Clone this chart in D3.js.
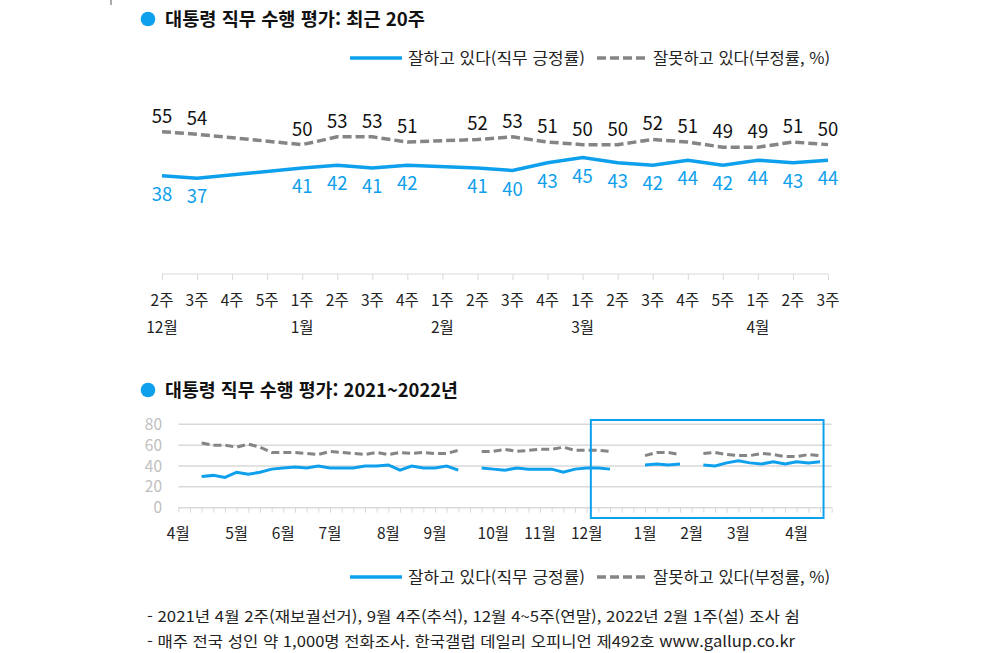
<!DOCTYPE html>
<html lang="ko">
<head>
<meta charset="UTF-8">
<title>대통령 직무 수행 평가</title>
<style>
  * { margin:0; padding:0; box-sizing:border-box }
  body { background:#fff; font-family:"Noto Sans CJK KR","Noto Sans",sans-serif; }
  svg text { font-family:"Noto Sans CJK KR","Noto Sans",sans-serif; }
</style>
</head>
<body>
<div id="chart"></div>
<script src="https://d3js.org/d3.v7.min.js"></script>
<script>
// ── 최근 20주 ──
const topWeeks  = ["2주","3주","4주","5주","1주","2주","3주","4주","1주","2주","3주","4주","1주","2주","3주","4주","5주","1주","2주","3주"];
const topMonth  = ["12월","12월","12월","12월","1월","1월","1월","1월","2월","2월","2월","2월","3월","3월","3월","3월","3월","4월","4월","4월"];
const topPos    = [38,37,null,null,41,42,41,42,null,41,40,43,45,43,42,44,42,44,43,44];
const topNeg    = [55,54,null,null,50,53,53,51,null,52,53,51,50,50,52,51,49,49,51,50];

// ── 2021~2022년 (주 단위) ──
const monthNames     = ["4월","5월","6월","7월","8월","9월","10월","11월","12월","1월","2월","3월","4월"];
const weeksPerMonth  = [5,4,4,5,4,5,4,4,5,4,4,5,3];
const allPos = [null,null,30,31,29,34,32,34,37,38,39,38,40,38,38,38,40,40,41,36,
                40,38,38,40,36,null,38,37,36,38,37,37,37,34,37,38,38,37,null,null,
                41,42,41,42,null,41,40,43,45,43,42,44,42,44,43,44];
const allNeg = [null,null,62,60,60,58,61,58,53,53,53,52,51,54,53,52,51,53,51,53,
                52,53,52,52,55,null,54,54,56,54,55,56,56,58,55,55,55,54,null,null,
                50,53,53,51,null,52,53,51,50,50,52,51,49,49,51,50];
const yTicks = [0,20,40,60,80];

const legendPos = "잘하고 있다(직무 긍정률)";
const legendNeg = "잘못하고 있다(부정률, %)";
const notes = [
  "- 2021년 4월 2주(재보궐선거), 9월 4주(추석), 12월 4~5주(연말), 2022년 2월 1주(설) 조사 쉼",
  "- 매주 전국 성인 약 1,000명 전화조사. 한국갤럽 데일리 오피니언 제492호 www.gallup.co.kr"
];

const BLUE = "#0ea0ec", GRAY = "#858585", GRID = "#d9d9d9";
const W = 983, H = 653;

const svg = d3.select("#chart").append("svg")
  .attr("width", W).attr("height", H);

// 왼쪽 위 작은 표시
svg.append("line").attr("x1",111).attr("x2",111).attr("y1",0).attr("y2",5)
  .attr("stroke","#555").attr("stroke-width",1);

function title(y, txt, len) {
  svg.append("circle").attr("cx",148).attr("cy",y).attr("r",7.3).attr("fill",BLUE);
  svg.append("text").attr("x",165).attr("y",y+7)
    .attr("font-size",18.5).attr("font-weight",700).attr("fill","#111")
    .attr("textLength",len).attr("lengthAdjust","spacingAndGlyphs").text(txt);
}

function legend(y) {
  svg.append("line").attr("x1",350).attr("x2",402).attr("y1",y).attr("y2",y)
    .attr("stroke",BLUE).attr("stroke-width",3.5);
  svg.append("text").attr("x",408).attr("y",y+5.5).attr("font-size",15.5).attr("fill","#222")
    .attr("textLength",177).attr("lengthAdjust","spacingAndGlyphs").text(legendPos);
  svg.append("line").attr("x1",597).attr("x2",647).attr("y1",y).attr("y2",y)
    .attr("stroke",GRAY).attr("stroke-width",3.5).attr("stroke-dasharray","9,4");
  svg.append("text").attr("x",653).attr("y",y+5.5).attr("font-size",15.5).attr("fill","#222")
    .attr("textLength",177).attr("lengthAdjust","spacingAndGlyphs").text(legendNeg);
}

// ── 상단 차트 ──
title(19, "대통령 직무 수행 평가: 최근 20주", 260);
legend(58);

const x1 = d3.scaleLinear().domain([0, topWeeks.length-1]).range([162, 828]);
const y1 = d3.scaleLinear().domain([0, 80]).range([274, 67]);

const g1 = svg.append("g");
g1.append("g")
  .attr("transform", `translate(0,${y1(0)})`)
  .call(d3.axisBottom(x1).tickValues(d3.range(topWeeks.length)).tickSize(6).tickFormat(""))
  .call(g => g.select(".domain").attr("stroke", GRID).attr("d", `M${x1(0)},0H${x1(topWeeks.length-1)}`))
  .call(g => g.selectAll(".tick line").attr("stroke", GRID));

g1.selectAll(".wk").data(topWeeks).join("text")
  .attr("x",(d,i)=>x1(i)).attr("y",306).attr("text-anchor","middle")
  .attr("font-size",15.5).attr("fill","#222").text(d=>d);
g1.selectAll(".mo").data(topMonth.map((m,i)=>({m,i})).filter(d=>d.i===0 || topMonth[d.i-1]!==d.m))
  .join("text")
  .attr("x",d=>x1(d.i)).attr("y",333).attr("text-anchor","middle")
  .attr("font-size",15.5).attr("fill","#222").text(d=>d.m);

const topLine = d3.line().x(d=>x1(d.i)).y(d=>y1(d.v));
const negPts = topNeg.map((v,i)=>({i,v})).filter(d=>d.v!=null);
const posPts = topPos.map((v,i)=>({i,v})).filter(d=>d.v!=null);

g1.append("path").datum(negPts).attr("d",topLine).attr("fill","none")
  .attr("stroke",GRAY).attr("stroke-width",3.5).attr("stroke-dasharray","9,4");
g1.append("path").datum(posPts).attr("d",topLine).attr("fill","none")
  .attr("stroke",BLUE).attr("stroke-width",3.5);

g1.selectAll(".nl").data(negPts).join("text")
  .attr("x",d=>x1(d.i)).attr("y",d=>y1(d.v)-9).attr("text-anchor","middle")
  .attr("font-size",18.5).attr("fill","#111").text(d=>d.v);
g1.selectAll(".pl").data(posPts).join("text")
  .attr("x",d=>x1(d.i)).attr("y",d=>y1(d.v)+25).attr("text-anchor","middle")
  .attr("font-size",18.5).attr("fill",BLUE).text(d=>d.v);

// ── 하단 차트 ──
title(390, "대통령 직무 수행 평가: 2021~2022년", 293);

const nWeeks = d3.sum(weeksPerMonth);
const x2 = d3.scaleLinear().domain([0, nWeeks]).range([178.3, 831.7]);
const y2 = d3.scaleLinear().domain([0, 80]).range([507.7, 424.3]);

const g2 = svg.append("g");
g2.selectAll(".grid").data(yTicks).join("line")
  .attr("x1",x2(0)).attr("x2",x2(nWeeks)).attr("y1",d=>y2(d)).attr("y2",d=>y2(d))
  .attr("stroke",GRID).attr("stroke-width",1.5);
g2.selectAll(".yl").data(yTicks).join("text")
  .attr("x",162).attr("y",d=>y2(d)+5.5).attr("text-anchor","end")
  .attr("font-size",15.5).attr("fill","#bfbfbf").text(d=>d);

g2.append("g")
  .attr("transform", `translate(0,${y2(0)})`)
  .call(d3.axisBottom(x2).tickValues(d3.range(nWeeks+1)).tickSize(5).tickFormat(""))
  .call(g => g.select(".domain").remove())
  .call(g => g.selectAll(".tick line").attr("stroke", GRID));

const monthStart = d3.cumsum([0, ...weeksPerMonth.slice(0,-1)]);
g2.selectAll(".ml").data(monthNames).join("text")
  .attr("x",(d,i)=>x2(monthStart[i])).attr("y",539).attr("text-anchor","middle")
  .attr("font-size",15.5).attr("fill","#222").text(d=>d);

const allLine = d3.line().defined(d=>d!=null).x((d,i)=>x2(i)).y(d=>y2(d));
g2.append("path").datum(allNeg).attr("d",allLine).attr("fill","none")
  .attr("stroke",GRAY).attr("stroke-width",3).attr("stroke-dasharray","8,4");
g2.append("path").datum(allPos).attr("d",allLine).attr("fill","none")
  .attr("stroke",BLUE).attr("stroke-width",3);

// 최근 20주 강조 박스
const boxFrom = allPos.length - topWeeks.length;
g2.append("rect")
  .attr("x", x2(boxFrom) - 7.5).attr("y", 420)
  .attr("width", x2(allPos.length-1) - x2(boxFrom) + 11).attr("height", 98)
  .attr("fill","none").attr("stroke",BLUE).attr("stroke-width",2);

legend(577);

const noteLen = [653, 648];
svg.selectAll(".note").data(notes).join("text")
  .attr("x",147).attr("y",(d,i)=>622 + i*25)
  .attr("font-size",15).attr("fill","#222")
  .attr("textLength",(d,i)=>noteLen[i]).attr("lengthAdjust","spacingAndGlyphs")
  .text(d=>d);
</script>
</body>
</html>
